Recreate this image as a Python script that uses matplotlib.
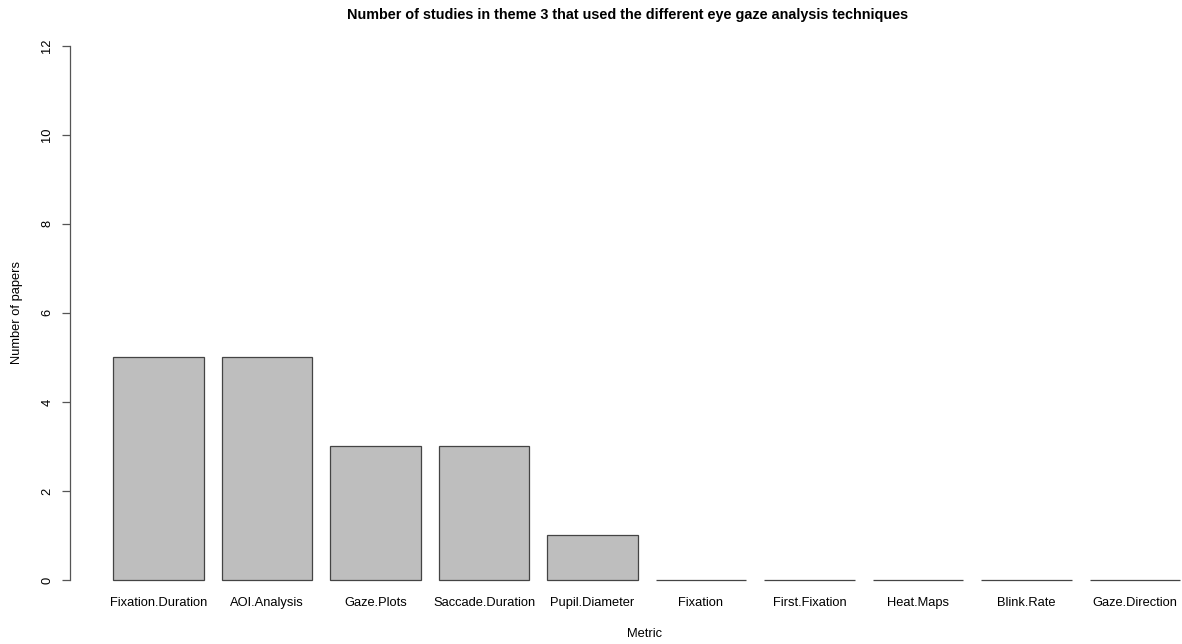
import matplotlib.pyplot as plt

plt.rcParams["font.family"] = ["Liberation Sans", "DejaVu Sans"]

metrics = ["Fixation.Duration", "AOI.Analysis", "Gaze.Plots", "Saccade.Duration",
           "Pupil.Diameter", "Fixation", "First.Fixation", "Heat.Maps",
           "Blink.Rate", "Gaze.Direction"]
papers = [5, 5, 3, 3, 1, 0, 0, 0, 0, 0]
yticks = [0, 2, 4, 6, 8, 10, 12]

W, H = 1182, 644
fig = plt.figure(figsize=(W / 100, H / 100), dpi=100)

# plot region in pixels (R-like barplot with 4% axis padding)
left_px, right_px = 70, 1182
top_px, bottom_px = 24.3, 601.4
ax = fig.add_axes([left_px / W, 1 - bottom_px / H,
                   (right_px - left_px) / W, (bottom_px - top_px) / H])

# R barplot: width 1, space 0.2
lefts = [0.2 + 1.2 * i for i in range(len(metrics))]
centers = [l + 0.5 for l in lefts]
ax.bar(centers, papers, width=1.0, color="#bebebe", edgecolor="#444444", linewidth=0.9)

ax.set_xlim(-0.28, -0.28 + (right_px - left_px) / 90.4)
ax.set_ylim(-0.48, 12.48)

for s in ["top", "right", "bottom"]:
    ax.spines[s].set_visible(False)
ax.spines["left"].set_bounds(0, 12)
ax.spines["left"].set_color("#555555")
ax.spines["left"].set_linewidth(0.9)

ax.set_yticks(yticks)
ax.set_yticklabels([str(t) for t in yticks], rotation=90, va="center", fontsize=9.3)
ax.tick_params(axis="y", length=6, width=0.9, color="#555555", pad=6)

ax.set_xticks(centers)
ax.set_xticklabels(metrics, fontsize=9.3)
ax.tick_params(axis="x", length=0, pad=-3)

fig.text(628 / W, 1 - 15 / H, "Number of studies in theme 3 that used the different eye gaze analysis techniques",
         ha="center", va="center", fontsize=10.4, fontweight="bold")
fig.text(645 / W, 1 - 634 / H, "Metric", ha="center", va="center", fontsize=9.3)
fig.text(17 / W, 1 - 312 / H, "Number of papers", ha="center", va="center",
         rotation=90, fontsize=9.3)

fig.savefig("out.png", dpi=100)
